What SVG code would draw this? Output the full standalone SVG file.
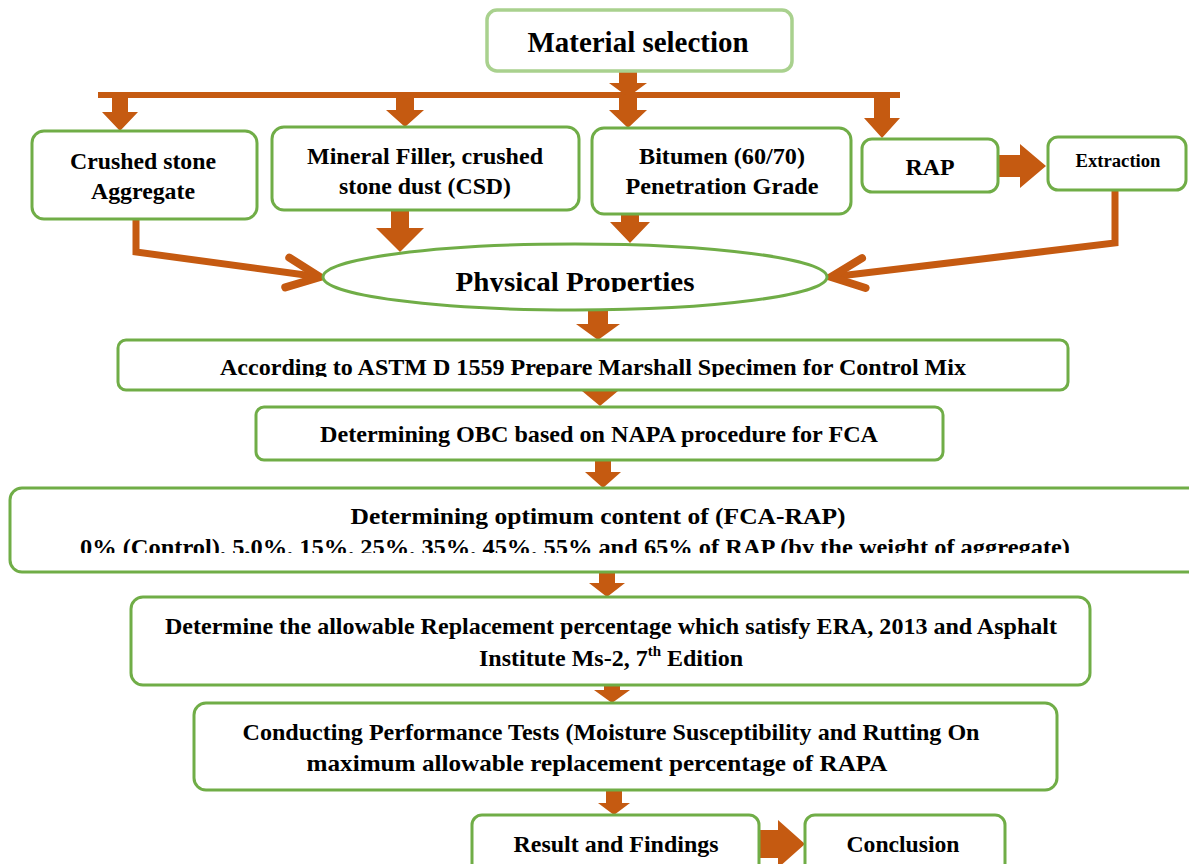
<svg xmlns="http://www.w3.org/2000/svg" width="1189" height="864" viewBox="0 0 1189 864">
<style>
.box{fill:#fff;stroke:#70ad47;stroke-width:3}
.top{fill:#fff;stroke:#a9d18e;stroke-width:3.5}
.arr{fill:#c55a11}
.ln{fill:none;stroke:#c55a11;stroke-width:7;stroke-linejoin:miter}
.t{font-family:"Liberation Serif","Times New Roman",serif;font-weight:bold;fill:#000;text-anchor:middle;font-size:24px}
</style>
<defs>
<marker id="chev" markerUnits="userSpaceOnUse" viewBox="-42 -24 48 48" markerWidth="48" markerHeight="48" refX="0" refY="0" orient="auto">
<path d="M-33,-15 L0,0 L-33,15" fill="none" stroke="#c55a11" stroke-width="8" stroke-linecap="round" stroke-linejoin="miter"/>
</marker>
<clipPath id="c1"><rect x="0" y="0" width="1189" height="292"/></clipPath>
<clipPath id="c2"><rect x="0" y="0" width="1189" height="377"/></clipPath>
<clipPath id="c3"><rect x="0" y="0" width="1189" height="553"/></clipPath>
</defs>

<g id="connectors">
<rect class="arr" x="98" y="92" width="802" height="6"/>
<polygon class="arr" points="619,71 637,71 637,83 647,83 628,97 609,83 619,83"/>
<polygon class="arr" points="619,97 637,97 637,110 647,110 628,128 609,110 619,110"/>
<polygon class="arr" points="112,95 128,95 128,112 138,112 120,131 102,112 112,112"/>
<polygon class="arr" points="396,95 414,95 414,110 424,110 405,127 386,110 396,110"/>
<polygon class="arr" points="874,95 890,95 890,118 900,118 882,138 864,118 874,118"/>
<polygon class="arr" points="998,155 1020,155 1020,144 1046,166 1020,188 1020,177 998,177"/>
<polygon class="arr" points="391,211 409,211 409,228 424,228 400,252 376,228 391,228"/>
<polygon class="arr" points="621,214 639,214 639,222 650,222 630,243 610,222 621,222"/>
<polyline class="ln" points="136,219 136,252 320,277" marker-end="url(#chev)"/>
<polyline class="ln" points="1115,190 1115,243 831,277" marker-end="url(#chev)"/>
<polygon class="arr" points="588,310 608,310 608,324 620,324 598,340 576,324 588,324"/>
<polygon class="arr" points="591,390 609,390 609,391 618,391 600,406 582,391 591,391"/>
<polygon class="arr" points="595,460 611,460 611,472 621,472 603,488 585,472 595,472"/>
<polygon class="arr" points="599,572 615,572 615,583 625,583 607,597 589,583 599,583"/>
<polygon class="arr" points="604,685 620,685 620,690 630,690 612,703 594,690 604,690"/>
<polygon class="arr" points="606,790 622,790 622,803 630,803 614,815 598,803 606,803"/>
<polygon class="arr" points="759,830 778,830 778,820 805,844 778,868 778,858 759,858"/>
</g>

<g id="n-material">
<rect class="top" x="487" y="10" width="305" height="61" rx="10"/>
<text class="t" x="638" y="52" style="font-size:29px" textLength="221" lengthAdjust="spacingAndGlyphs">Material selection</text>
</g>
<g id="n-crushed">
<rect class="box" x="32" y="131" width="225" height="88" rx="12"/>
<text class="t" x="143" y="169" textLength="146" lengthAdjust="spacingAndGlyphs">Crushed stone</text>
<text class="t" x="143" y="199" textLength="104" lengthAdjust="spacingAndGlyphs">Aggregate</text>
</g>
<g id="n-mineral">
<rect class="box" x="272" y="127" width="307" height="83" rx="12"/>
<text class="t" x="425" y="164" textLength="236" lengthAdjust="spacingAndGlyphs">Mineral Filler, crushed</text>
<text class="t" x="425" y="194" textLength="172" lengthAdjust="spacingAndGlyphs">stone dust (CSD)</text>
</g>
<g id="n-bitumen">
<rect class="box" x="592" y="128" width="259" height="86" rx="12"/>
<text class="t" x="722" y="164" textLength="166" lengthAdjust="spacingAndGlyphs">Bitumen (60/70)</text>
<text class="t" x="722" y="194" textLength="193" lengthAdjust="spacingAndGlyphs">Penetration Grade</text>
</g>
<g id="n-rap">
<rect class="box" x="862" y="139" width="136" height="53" rx="10"/>
<text class="t" x="930" y="175" textLength="49" lengthAdjust="spacingAndGlyphs">RAP</text>
</g>
<g id="n-extraction">
<rect class="box" x="1048" y="137" width="138" height="53" rx="10"/>
<text class="t" x="1118" y="167" style="font-size:18px" textLength="85" lengthAdjust="spacingAndGlyphs">Extraction</text>
</g>
<g id="n-physical">
<ellipse class="box" cx="575" cy="277" rx="252" ry="33"/>
<text class="t" x="575" y="291" style="font-size:28px" textLength="239" lengthAdjust="spacingAndGlyphs" clip-path="url(#c1)">Physical Properties</text>
</g>
<g id="n-astm">
<rect class="box" x="118" y="340" width="950" height="50" rx="8"/>
<text class="t" x="593" y="375" textLength="746" lengthAdjust="spacingAndGlyphs" clip-path="url(#c2)">According to ASTM D 1559 Prepare Marshall Specimen for Control Mix</text>
</g>
<g id="n-obc">
<rect class="box" x="256" y="407" width="687" height="53" rx="8"/>
<text class="t" x="599" y="442" textLength="558" lengthAdjust="spacingAndGlyphs">Determining OBC based on NAPA procedure for FCA</text>
</g>
<g id="n-fca">
<rect class="box" x="10" y="488" width="1190" height="84" rx="12"/>
<text class="t" x="598" y="524" textLength="495" lengthAdjust="spacingAndGlyphs">Determining optimum content of (FCA-RAP)</text>
<text class="t" x="575" y="555" textLength="990" lengthAdjust="spacingAndGlyphs" clip-path="url(#c3)">0% (Control), 5.0%, 15%, 25%, 35%, 45%, 55% and 65% of RAP (by the weight of aggregate)</text>
</g>
<g id="n-determine">
<rect class="box" x="131" y="597" width="959" height="88" rx="12"/>
<text class="t" x="611" y="634" textLength="892" lengthAdjust="spacingAndGlyphs">Determine the allowable Replacement percentage which satisfy ERA, 2013 and Asphalt</text>
<text class="t" x="611" y="666">Institute Ms-2, 7<tspan style="font-size:15px" dy="-10">th</tspan><tspan dy="10"> Edition</tspan></text>
</g>
<g id="n-conducting">
<rect class="box" x="194" y="703" width="863" height="87" rx="12"/>
<text class="t" x="611" y="740" textLength="737" lengthAdjust="spacingAndGlyphs">Conducting Performance Tests (Moisture Susceptibility and Rutting On</text>
<text class="t" x="597" y="771" textLength="581" lengthAdjust="spacingAndGlyphs">maximum allowable replacement percentage of RAPA</text>
</g>
<g id="n-result">
<rect class="box" x="472" y="815" width="287" height="60" rx="10"/>
<text class="t" x="616" y="852" textLength="205" lengthAdjust="spacingAndGlyphs">Result and Findings</text>
</g>
<g id="n-conclusion">
<rect class="box" x="805" y="815" width="200" height="60" rx="10"/>
<text class="t" x="903" y="852" textLength="113" lengthAdjust="spacingAndGlyphs">Conclusion</text>
</g>
</svg>
